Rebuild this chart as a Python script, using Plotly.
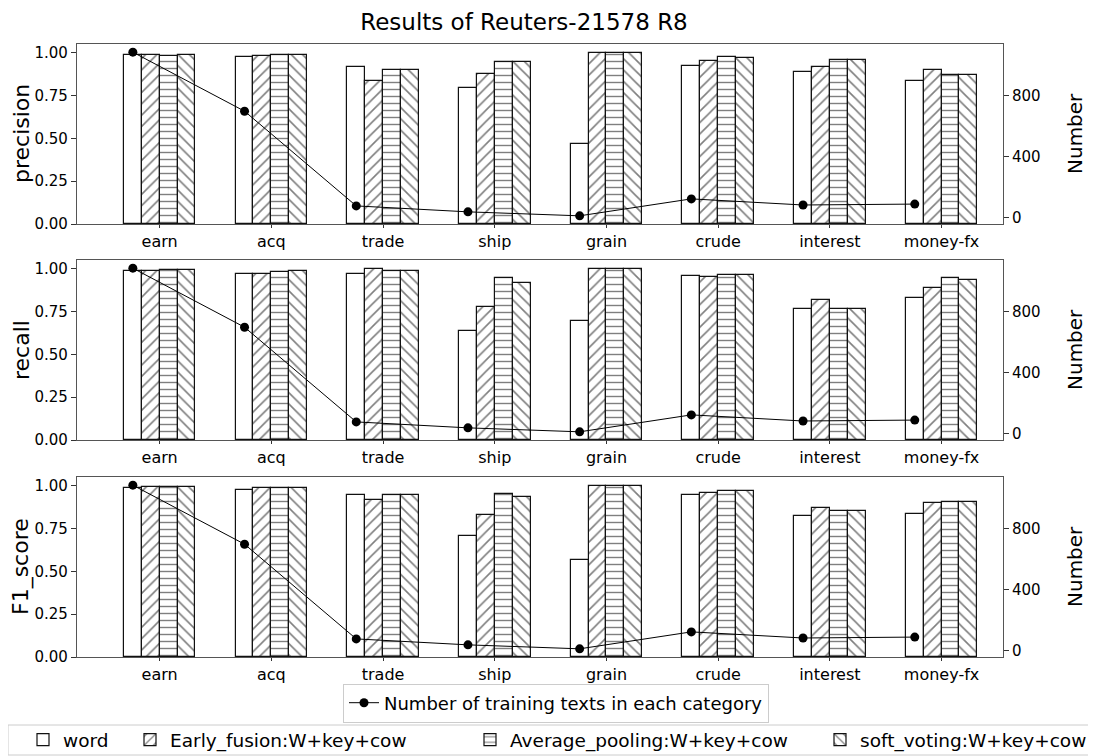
import numpy as np
import plotly.graph_objects as go
from plotly.subplots import make_subplots

categories = ["earn", "acq", "trade", "ship", "grain", "crude", "interest", "money-fx"]
counts = [1083, 696, 75, 36, 10, 121, 81, 87]

series_names = ["word", "Early_fusion:W+key+cow", "Average_pooling:W+key+cow", "soft_voting:W+key+cow"]
patterns = ["", "/", "-", "\\"]

precision_word = [0.984, 0.973, 0.913, 0.792, 0.464, 0.920, 0.885, 0.833]
precision_early = [0.983, 0.981, 0.833, 0.874, 1.000, 0.948, 0.915, 0.901]
precision_avg = [0.980, 0.988, 0.901, 0.944, 1.000, 0.973, 0.955, 0.870]
precision_soft = [0.988, 0.984, 0.901, 0.944, 1.000, 0.967, 0.955, 0.868]

recall_word = [0.988, 0.971, 0.971, 0.637, 0.695, 0.955, 0.767, 0.827]
recall_early = [0.988, 0.971, 1.000, 0.777, 1.000, 0.948, 0.814, 0.885]
recall_avg = [0.994, 0.981, 0.984, 0.944, 1.000, 0.965, 0.767, 0.944]
recall_soft = [0.994, 0.984, 0.984, 0.915, 1.000, 0.965, 0.767, 0.932]

f1_word = [0.988, 0.977, 0.944, 0.707, 0.565, 0.944, 0.821, 0.835]
f1_early = [0.990, 0.983, 0.913, 0.827, 1.000, 0.955, 0.868, 0.897]
f1_avg = [0.994, 0.988, 0.946, 0.950, 1.000, 0.971, 0.850, 0.907]
f1_soft = [0.994, 0.988, 0.944, 0.932, 1.000, 0.971, 0.850, 0.903]

panels = [
    ("precision", [precision_word, precision_early, precision_avg, precision_soft]),
    ("recall", [recall_word, recall_early, recall_avg, recall_soft]),
    ("F1_score", [f1_word, f1_early, f1_avg, f1_soft]),
]

# the page body has an 8px margin; work in screen pixels and convert
OFF = 8
W, H = 1096 - OFF, 756 - OFF
PLOT_L, PLOT_R, PLOT_T, PLOT_B = 77, 1003, 44, 657   # screen px
L, T = PLOT_L - OFF, PLOT_T - OFF
R, B = W - (PLOT_R - OFF), H - (PLOT_B - OFF)
PW, PH = W - L - R, H - T - B

def px_x(p):
    return (p - OFF - L) / PW

def px_y(p):
    return (T + PH - (p - OFF)) / PH

def cx(p):
    return (p - OFF) / W

def cy(p):
    return 1 - (p - OFF) / H

bw = 0.16
idx = np.arange(len(categories))
FONT = "DejaVu Sans"
EDGE = "#111"
pattern_sizes = [8, 8, 7, 8]

fig = make_subplots(rows=3, cols=1, specs=[[{"secondary_y": True}]] * 3)

for r, (label, vals) in enumerate(panels, start=1):
    for k, (name, v) in enumerate(zip(series_names, vals)):
        fig.add_trace(
            go.Bar(
                x=idx + k * bw,
                y=v,
                width=bw,
                name=name,
                marker=dict(
                    color="white",
                    line=dict(color=EDGE, width=1.2),
                    pattern=dict(shape=patterns[k], fgcolor="#000", bgcolor="white",
                                 size=pattern_sizes[k], solidity=0.2),
                ),
                showlegend=(r == 1),
                legend="legend%d" % (k + 2),
            ),
            row=r, col=1, secondary_y=False,
        )
    fig.add_trace(
        go.Scatter(
            x=idx,
            y=counts,
            mode="lines+markers",
            name="Number of training texts in each category",
            line=dict(color="black", width=1),
            marker=dict(color="black", size=9),
            showlegend=(r == 1),
            legend="legend",
        ),
        row=r, col=1, secondary_y=True,
    )

# panel screen-pixel extents (top, bottom)
panel_px = [(44, 224), (260, 440), (477, 657)]
layout = {}
annotations = []
for r, (label, _) in enumerate(panels, start=1):
    top, bot = panel_px[r - 1]
    dom = [px_y(bot), px_y(top)]
    xa = "xaxis" if r == 1 else "xaxis%d" % r
    yl = "yaxis" if r == 1 else "yaxis%d" % (2 * r - 1)
    yr = "yaxis%d" % (2 * r)
    layout[xa] = dict(
        domain=[0, 1], range=[-0.5, 7.79],
        tickvals=list(idx + 1.5 * bw), ticktext=categories,
        ticks="outside", ticklen=3, tickcolor="#333",
        showline=True, linecolor="#555", linewidth=1.2, mirror=True,
        showgrid=False, zeroline=False, automargin=False,
        tickfont=dict(family=FONT, size=16, color="black"),
    )
    layout[yl] = dict(
        domain=dom, range=[0, 1.05],
        tickvals=[0, 0.25, 0.5, 0.75, 1.0], ticktext=["0.00", "0.25", "0.50", "0.75", "1.00"],
        ticks="outside", ticklen=5, tickcolor="#333",
        showline=True, linecolor="#555", linewidth=1.2, mirror=True,
        showgrid=False, zeroline=False, automargin=False,
        tickfont=dict(family=FONT, size=15, color="black"),
    )
    layout[yr] = dict(
        range=[-43.65, 1136.65],
        tickvals=[0, 400, 800],
        ticks="outside", ticklen=5, tickcolor="#333",
        showgrid=False, zeroline=False, showline=False, automargin=False,
        tickfont=dict(family=FONT, size=15, color="black"),
    )
    yc = px_y((top + bot) / 2)
    annotations.append(dict(text=label, xref="paper", yref="paper", x=px_x(21), y=yc,
                            xanchor="center", yanchor="middle", textangle=-90, showarrow=False,
                            font=dict(family=FONT, size=22, color="black")))
    annotations.append(dict(text="Number", xref="paper", yref="paper", x=px_x(1075), y=yc,
                            xanchor="center", yanchor="middle", textangle=-90, showarrow=False,
                            font=dict(family=FONT, size=20, color="black")))

legends = {}
legends["legend"] = dict(
    xref="container", yref="container",
    x=cx(556), y=cy(703), xanchor="center", yanchor="middle",
    bordercolor="#ccc", borderwidth=1, bgcolor="white",
    font=dict(family=FONT, size=18, color="black"),
)
legend_x = [23, 130, 470, 820]   # screen px
for k in range(4):
    legends["legend%d" % (k + 2)] = dict(
        xref="container", yref="container",
        x=cx(legend_x[k]), y=cy(740), xanchor="left", yanchor="middle",
        bgcolor="rgba(0,0,0,0)", borderwidth=0,
        font=dict(family=FONT, size=18.5, color="black"),
    )

fig.update_layout(
    width=W, height=H,
    margin=dict(l=L, r=R, t=T, b=B, autoexpand=False),
    plot_bgcolor="white", paper_bgcolor="white",
    bargap=0, barmode="overlay",
    title=dict(text="Results of Reuters-21578 R8", x=cx(524), xanchor="center",
               y=cy(22), yanchor="middle",
               font=dict(family=FONT, size=23, color="black")),
    annotations=annotations,
    **layout, **legends,
)

fig.add_shape(type="rect", xref="paper", yref="paper",
              x0=px_x(OFF), x1=px_x(1095), y0=px_y(755), y1=px_y(725),
              line=dict(color="#ccc", width=1), fillcolor="rgba(0,0,0,0)", layer="below")

fig.write_html("out.html")
